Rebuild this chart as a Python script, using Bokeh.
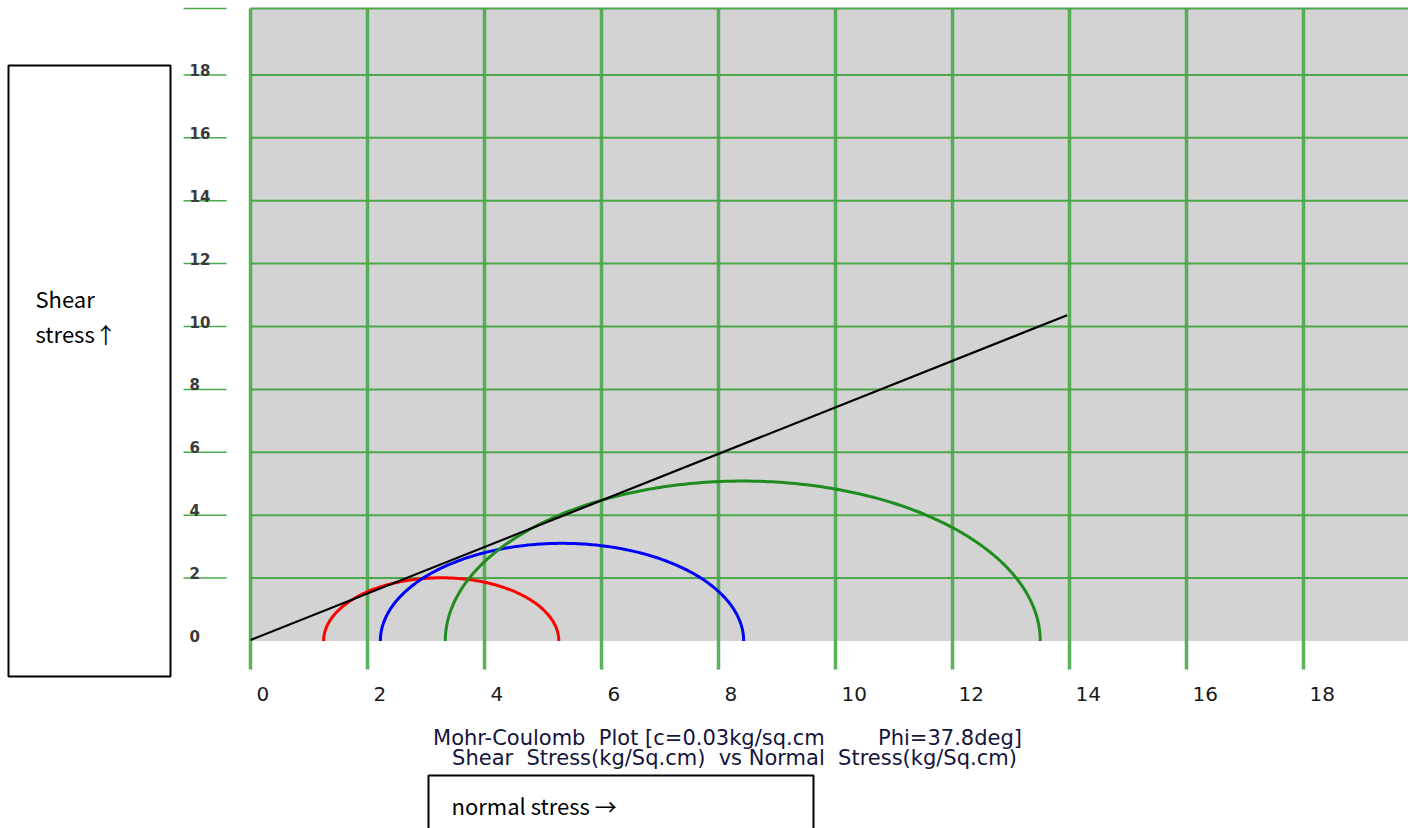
import numpy as np
from bokeh.plotting import figure
from bokeh.models import Range1d, BoxAnnotation
from bokeh.core.properties import value
from bokeh.embed import file_html
from bokeh.resources import INLINE

# ---------------- data ----------------
sigma3 = [1.25, 2.22, 3.33]          # minor principal stress of each test (kg/sq.cm)
sigma1 = [5.27, 8.43, 13.50]         # major principal stress of each test (kg/sq.cm)
circle_colors = ["#ff0000", "#0000ff", "#1e8c1e"]

envelope_x = [0.0, 13.96]            # failure envelope end points
envelope_y = [0.03, 10.36]

x_ticks = [0, 2, 4, 6, 8, 10, 12, 14, 16, 18]
x_tick_labels = ["0", "2", "4", "6", "8", "10", "12", "14", "16", "18"]
y_ticks = [0, 2, 4, 6, 8, 10, 12, 14, 16, 18]
y_tick_labels = ["0", "2", "4", "6", "8", "10", "12", "14", "16", "18"]
grid_x = [0, 2, 4, 6, 8, 10, 12, 14, 16, 18]
grid_y = [2, 4, 6, 8, 10, 12, 14, 16, 18, 20]

NB = "\u00a0"
title_lines = ["Mohr-Coulomb" + NB * 2 + "Plot [c=0.03kg/sq.cm" + NB * 8 + "Phi=37.8deg]",
               "Shear" + NB * 2 + "Stress(kg/Sq.cm)" + NB * 2 + "vs Normal" + NB * 2 + "Stress(kg/Sq.cm)"]
y_label_lines = ["Shear", "stress\u2191"]
x_label_text = "normal stress \u2192"

# ---------------- layout (pixel frame) ----------------
W, H = 1408, 828
PX_X0, PX_PER_X = 250.0, 58.5
PX_Y0, PX_PER_Y = 640.5, 31.45


def px2x(px):
    return (px - PX_X0) / PX_PER_X


def px2y(py):
    return (PX_Y0 - py) / PX_PER_Y


X_MAX = px2x(W)
Y_TOP = px2y(8)

p = figure(width=W, height=H, output_backend="svg", toolbar_location=None,
           x_range=Range1d(px2x(0), px2x(W)), y_range=Range1d(px2y(H), px2y(0)),
           x_axis_location=None, y_axis_location=None, min_border=0,
           title=None)
p.grid.visible = False
p.outline_line_color = None
p.background_fill_color = "white"
p.border_fill_color = "white"

# gray plotting area
p.quad(left=[0], right=[X_MAX], bottom=[0], top=[Y_TOP],
       fill_color="#d3d3d3", line_color=None)

grid_color = "#4aa84a"
grid_y_drawn = grid_y[:-1] + [Y_TOP]
# vertical grid lines (extend below the plotting area)
p.segment(x0=grid_x, x1=grid_x, y0=[px2y(669)] * len(grid_x), y1=[Y_TOP] * len(grid_x),
          line_color=grid_color, line_width=3.5, line_alpha=0.9)
# horizontal grid lines
p.segment(x0=[0] * len(grid_y), x1=[X_MAX] * len(grid_y), y0=grid_y_drawn, y1=grid_y_drawn,
          line_color=grid_color, line_width=2)
# short tick stubs left of the area
p.segment(x0=[px2x(183)] * len(grid_y), x1=[px2x(226)] * len(grid_y),
          y0=grid_y_drawn, y1=grid_y_drawn, line_color=grid_color, line_width=1.5)

# Mohr circles (upper halves)
theta = np.linspace(0, np.pi, 240)
for s3, s1, col in zip(sigma3, sigma1, circle_colors):
    c = (s1 + s3) / 2.0
    r = (s1 - s3) / 2.0
    p.line(c + r * np.cos(theta), r * np.sin(theta), line_color=col, line_width=3)

# failure envelope
p.line(envelope_x, envelope_y, line_color="black", line_width=2.2)

# tick labels
p.text(x=[px2x(189)] * len(y_ticks), y=[t + 5 / PX_PER_Y for t in y_ticks], text=y_tick_labels,
       text_font=value("DejaVu Sans"), text_font_style="bold", text_font_size="15px",
       text_color="#3a3a3a", text_baseline="alphabetic", text_align="left")
p.text(x=[t + 6 / PX_PER_X for t in x_ticks], y=[px2y(693)] * len(x_ticks), text=x_tick_labels,
       text_font=value("DejaVu Sans"), text_font_size="20px",
       text_color="#1a1a1a", text_baseline="alphabetic", text_align="left")

# caption lines under the chart
p.text(x=[px2x(727), px2x(734)], y=[px2y(737), px2y(757)], text=title_lines,
       text_font=value("DejaVu Sans"), text_font_size="21px", text_color="#14143c",
       text_baseline="middle", text_align="center")

# boxed axis labels
p.add_layout(BoxAnnotation(left=px2x(8), right=px2x(170), top=px2y(65), bottom=px2y(676),
                           fill_color=None, line_color="black", line_alpha=1.0, line_width=2))
p.add_layout(BoxAnnotation(left=px2x(428), right=px2x(813), top=px2y(775), bottom=px2y(834),
                           fill_color=None, line_color="black", line_alpha=1.0, line_width=2))
p.text(x=[px2x(35)] * 2, y=[px2y(297), px2y(332)], text=y_label_lines,
       text_font=value("Noto Sans CJK SC"), text_font_size="22px", text_color="black",
       text_baseline="middle", text_align="left")
p.text(x=[px2x(451)], y=[px2y(804)], text=[x_label_text],
       text_font=value("Noto Sans CJK SC"), text_font_size="22px", text_color="black",
       text_baseline="middle", text_align="left")

open("out.html", "w").write(file_html(p, INLINE))
